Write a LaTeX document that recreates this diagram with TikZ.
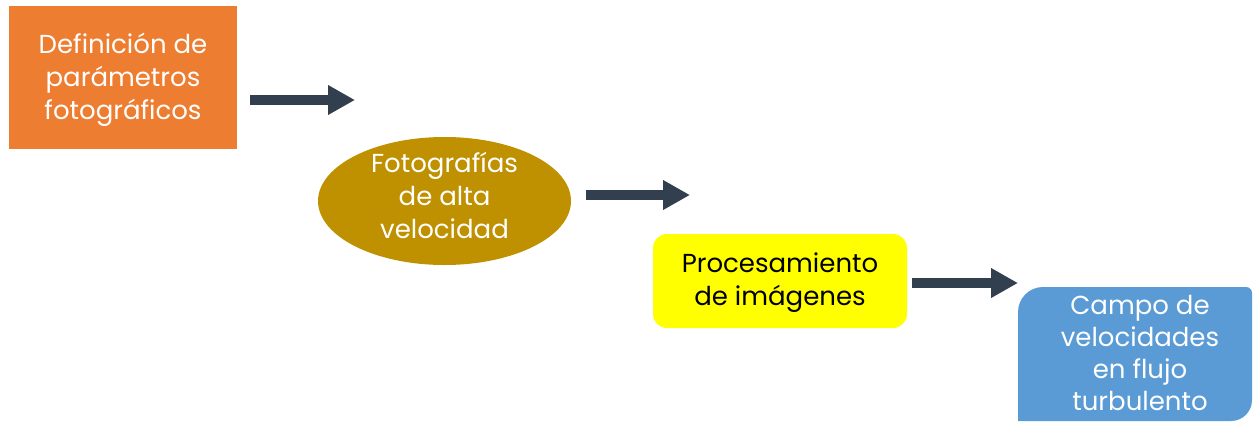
\documentclass[tikz,border=0pt]{standalone}
\usepackage{fontspec}
\setmainfont{Poppins}
\usetikzlibrary{arrows.meta,shapes.geometric}
\definecolor{orangebox}{HTML}{ED7D31}
\definecolor{goldell}{HTML}{BF9000}
\definecolor{yellowbox}{HTML}{FFFF00}
\definecolor{bluebox}{HTML}{5B9BD5}
\definecolor{arrowcol}{HTML}{323F4F}
\tikzset{
  flowarrow/.style={draw=arrowcol, line width=10pt,
    -{Triangle[length=27pt,width=28pt]}},
  lbl/.style={align=center, font=\fontsize{26}{33}\selectfont, inner sep=0pt},
  lblb/.style={align=center, font=\fontsize{26}{32}\selectfont, inner sep=0pt}
}
\begin{document}
\begin{tikzpicture}[x=1pt,y=-1pt]
\useasboundingbox (0,0) rectangle (1255,421);
% orange box
\fill[orangebox] (9,6) rectangle (237,149);
\node[lbl, text=white] (def) at (123,80) {Definición de\\parámetros\\fotográficos};
% ellipse
\node[ellipse, fill=goldell, minimum width=253pt, minimum height=128pt, inner sep=0pt] (foto) at (444.5,201) {};
\node[lbl, text=white] (fototxt) at (444.5,195) {Fotografías\\de alta\\velocidad};
% yellow box
\fill[yellowbox, rounded corners=14pt] (653,234) rectangle (907,328);
\node[lbl, text=black] (proc) at (780,283) {Procesamiento\\de imágenes};
% blue box
\fill[bluebox] (1018,421) -- (1018,312) arc[start angle=180, end angle=90, radius=25pt]
  -- (1246,287) arc[start angle=90, end angle=0, radius=6pt] -- (1252,400)
  arc[start angle=0, end angle=-90, radius=21pt] -- (1231,421) -- cycle;
\node[lblb, text=white] (campo) at (1140,353) {Campo de\\velocidades\\en flujo\\turbulento};
% arrows
\coordinate (a1s) at (250,100); \coordinate (a1e) at (355,100);
\coordinate (a2s) at (586,195); \coordinate (a2e) at (690,195);
\coordinate (a3s) at (912,283); \coordinate (a3e) at (1018,283);
\draw[flowarrow] (a1s) -- (a1e);
\draw[flowarrow] (a2s) -- (a2e);
\draw[flowarrow] (a3s) -- (a3e);
\end{tikzpicture}
\end{document}
